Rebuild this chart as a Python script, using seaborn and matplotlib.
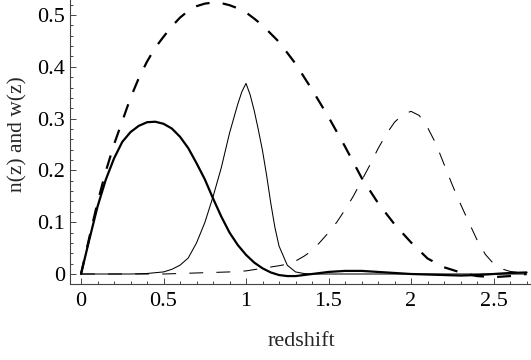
import matplotlib
matplotlib.use("Agg")
import matplotlib.pyplot as plt
import seaborn as sns
import pandas as pd
from matplotlib.ticker import FixedLocator, MultipleLocator, FixedFormatter

# ---------------- data ----------------
z_total = [0, 0.05, 0.1, 0.15, 0.2, 0.25, 0.3, 0.35, 0.4, 0.45, 0.5, 0.55, 0.6, 0.65,
           0.7, 0.75, 0.8, 0.85, 0.9, 0.95, 1.0, 1.05, 1.1, 1.15, 1.2, 1.3, 1.4, 1.5,
           1.6, 1.7, 1.8, 1.9, 2.0, 2.1, 2.2, 2.3, 2.4, 2.5, 2.6, 2.7]
n_total = [0, 0.07, 0.138, 0.198, 0.25, 0.295, 0.34, 0.378, 0.41, 0.437, 0.458, 0.478,
           0.495, 0.508, 0.517, 0.522, 0.524, 0.523, 0.519, 0.513, 0.505, 0.493, 0.480,
           0.464, 0.448, 0.406, 0.356, 0.303, 0.246, 0.186, 0.137, 0.096, 0.061, 0.030,
           0.013, 0.003, -0.004, -0.006, -0.004, 0.0]

z_weight = [0, 0.05, 0.1, 0.15, 0.2, 0.25, 0.3, 0.35, 0.4, 0.45, 0.5, 0.55, 0.6, 0.65,
            0.7, 0.75, 0.8, 0.85, 0.9, 0.95, 1.0, 1.05, 1.1, 1.15, 1.2, 1.25, 1.3, 1.4,
            1.5, 1.6, 1.7, 1.8, 1.9, 2.0, 2.1, 2.2, 2.3, 2.4, 2.5, 2.6, 2.7]
w_weight = [0, 0.066, 0.13, 0.182, 0.223, 0.255, 0.274, 0.286, 0.293, 0.294, 0.290,
            0.281, 0.265, 0.243, 0.214, 0.183, 0.146, 0.111, 0.080, 0.056, 0.037, 0.022,
            0.011, 0.003, -0.002, -0.004, -0.004, 0.0, 0.004, 0.006, 0.006, 0.004, 0.002,
            0.0, -0.001, -0.002, -0.003, -0.002, 0.0, 0.002, 0.003]

z_bin1 = [0, 0.1, 0.2, 0.3, 0.4, 0.5, 0.55, 0.6, 0.65, 0.7, 0.75, 0.8, 0.85, 0.9, 0.95,
          0.975, 1.0, 1.025, 1.05, 1.075, 1.1, 1.125, 1.15, 1.175, 1.2, 1.25, 1.3, 1.35,
          1.4, 1.6, 1.8, 2.0, 2.2, 2.4, 2.6, 2.7]
n_bin1 = [0, 0, 0, 0, 0.001, 0.004, 0.009, 0.017, 0.031, 0.060, 0.099, 0.149, 0.205,
          0.272, 0.328, 0.352, 0.368, 0.346, 0.315, 0.278, 0.238, 0.190, 0.137, 0.090,
          0.054, 0.017, 0.004, 0.001, 0, 0, 0, 0, 0, 0, 0, 0]

z_bin2 = [0, 0.5, 0.7, 0.9, 1.0, 1.1, 1.2, 1.25, 1.3, 1.35, 1.4, 1.45, 1.5, 1.55, 1.6,
          1.65, 1.7, 1.75, 1.8, 1.85, 1.9, 1.95, 2.0, 2.05, 2.1, 2.15, 2.2, 2.25, 2.3,
          2.35, 2.4, 2.45, 2.5, 2.55, 2.6, 2.65, 2.7]
n_bin2 = [0, 0, 0.002, 0.004, 0.006, 0.011, 0.016, 0.019, 0.025, 0.034, 0.045, 0.062,
          0.08, 0.1, 0.124, 0.15, 0.18, 0.21, 0.242, 0.27, 0.293, 0.308, 0.314, 0.306,
          0.283, 0.252, 0.212, 0.172, 0.135, 0.1, 0.066, 0.038, 0.02, 0.01, 0.005,
          0.003, 0.002]

x_ticks = [0, 0.5, 1, 1.5, 2, 2.5]
x_tick_labels = ["0", "0.5", "1", "1.5", "2", "2.5"]
y_ticks = [0, 0.1, 0.2, 0.3, 0.4, 0.5]
y_tick_labels = ["0", "0.1", "0.2", "0.3", "0.4", "0.5"]
x_label = "redshift"
y_label = "n(z) and w(z)"

# ---------------- style ----------------
sns.set_style("ticks")
plt.rcParams["font.family"] = ["Liberation Serif", "DejaVu Serif"]
plt.rcParams["lines.scale_dashes"] = False

fig = plt.figure(figsize=(5.31, 3.6), dpi=100)
ax = fig.add_axes([70 / 531, 1 - 284 / 360, 460 / 531, 284 / 360])

dash = (0, (10, 9.5))
series = [
    (z_total, n_total, 1.6, dash),
    (z_weight, w_weight, 1.6, "-"),
    (z_bin1, n_bin1, 0.75, "-"),
    (z_bin2, n_bin2, 0.75, dash),
]
for zs, ys, lw, ls in series:
    df = pd.DataFrame({"z": zs, "v": ys})
    sns.lineplot(data=df, x="z", y="v", ax=ax, color="black", linewidth=lw,
                 linestyle=ls, sort=False, estimator=None, dash_capstyle="butt")

ax.set_xlim(-0.0667, 2.721)
ax.set_ylim(-0.0193, 0.529)

for s in ["top", "right"]:
    ax.spines[s].set_visible(False)
for s in ["left", "bottom"]:
    ax.spines[s].set_color("#444444")
    ax.spines[s].set_linewidth(0.8)

ax.xaxis.set_major_locator(FixedLocator(x_ticks))
ax.xaxis.set_major_formatter(FixedFormatter(x_tick_labels))
ax.yaxis.set_major_locator(FixedLocator(y_ticks))
ax.yaxis.set_major_formatter(FixedFormatter(y_tick_labels))
ax.xaxis.set_minor_locator(MultipleLocator(0.1))
ax.yaxis.set_minor_locator(MultipleLocator(0.02))

ax.tick_params(which="both", direction="in", color="#444444", width=0.7)
ax.tick_params(which="major", length=4.3, labelsize=16, labelcolor="black")
ax.tick_params(which="minor", length=2.5)
ax.tick_params(axis="x", which="major", pad=6.0)
ax.tick_params(axis="y", which="major", pad=3.4)

ax.set_xlabel(x_label, fontsize=16)
ax.set_ylabel(y_label, fontsize=15.5)
ax.xaxis.set_label_coords(0.504, -0.168)
ax.yaxis.set_label_coords(-0.092, 0.528)

fig.savefig("out.png", dpi=100)
